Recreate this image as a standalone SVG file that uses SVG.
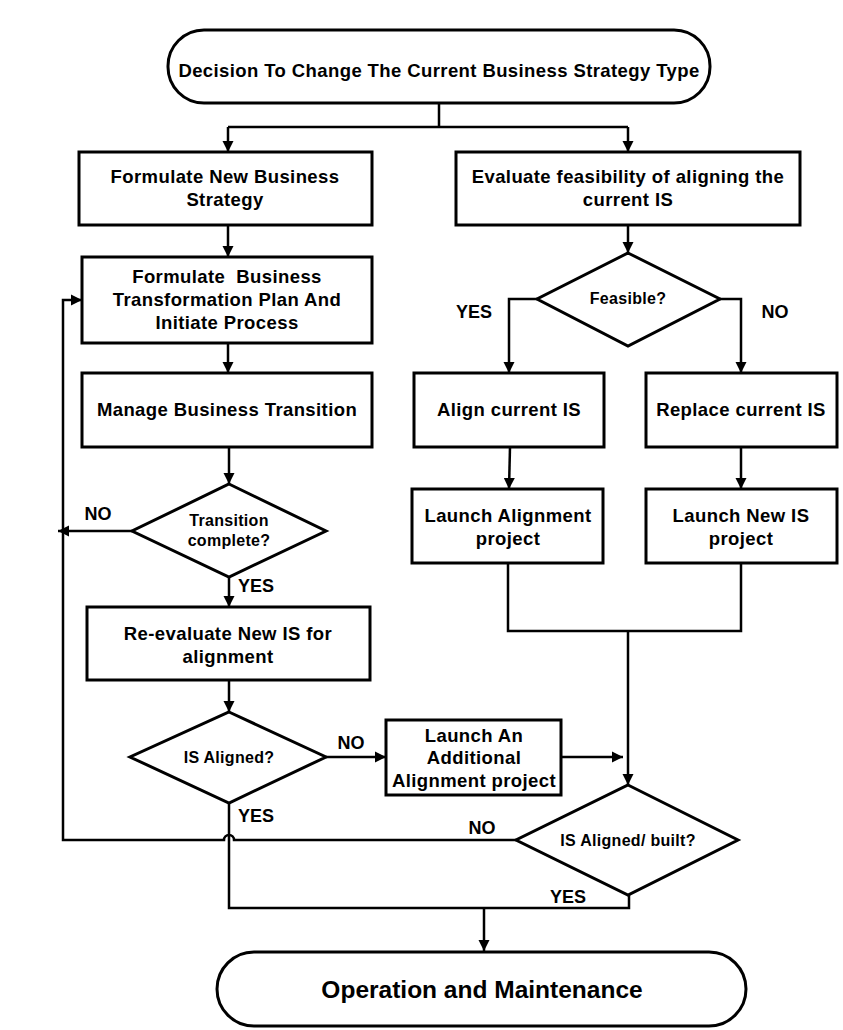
<svg xmlns="http://www.w3.org/2000/svg" width="843" height="1030" viewBox="0 0 843 1030">
<defs>
<marker id="ah" viewBox="0 0 10 10" refX="10" refY="5" markerWidth="4.5" markerHeight="4.5" orient="auto" markerUnits="strokeWidth">
<path d="M0,0 L10,5 L0,10 z" fill="#000"/>
</marker>
</defs>
<style>
.s{fill:#fff;stroke:#000;stroke-width:3}
.c{fill:none;stroke:#000;stroke-width:2.5}
.a{fill:none;stroke:#000;stroke-width:2.5;marker-end:url(#ah)}
text{font-family:"Liberation Sans",Arial,sans-serif;font-weight:bold;fill:#000;text-anchor:middle}
.t{font-size:18.5px;letter-spacing:0.4px}
.d{font-size:16px;letter-spacing:0.3px}
.l{font-size:18px}
</style>
<g id="connectors">
<path class="c" d="M439,103 V127 M228,127 H628"/>
<path class="a" d="M228,127 V152"/>
<path class="a" d="M628,127 V152"/>
<path class="a" d="M228,225 V257"/>
<path class="a" d="M228,343 V373"/>
<path class="a" d="M229,447 V484"/>
<path class="a" d="M132,531 H58"/>
<path class="a" d="M229,577 V607"/>
<path class="a" d="M229,680 V712"/>
<path class="a" d="M326,757 H386"/>
<path class="a" d="M561,757 H623"/>
<path class="a" d="M628,225 V253"/>
<path class="a" d="M537,299 H509 V373"/>
<path class="a" d="M720,299 H741 V373"/>
<path class="a" d="M510,447 L509,489"/>
<path class="a" d="M741,447 V489"/>
<path class="c" d="M508,563 V631 H741 V563"/>
<path class="a" d="M628,631 V785"/>
<path class="a" d="M516,840 H234 A5,5 0 0 0 224,840 H63 V300 H82"/>
<path class="c" d="M229,803 V908 H629 V895"/>
<path class="a" d="M484,908 V951"/>
</g>
<g id="n_start"><rect class="s" x="168" y="30" width="542" height="73" rx="36"/><text class="t" x="439" y="77">Decision To Change The Current Business Strategy Type</text></g>
<g id="n_formulate"><rect class="s" x="79" y="152" width="293" height="73"/><text class="t" x="225" y="183">Formulate New Business</text><text class="t" x="225" y="206">Strategy</text></g>
<g id="n_evaluate"><rect class="s" x="456" y="152" width="344" height="73"/><text class="t" x="628" y="183">Evaluate feasibility of aligning the</text><text class="t" x="628" y="206">current IS</text></g>
<g id="n_plan"><rect class="s" x="82" y="257" width="290" height="86"/><text class="t" x="227" y="283" xml:space="preserve">Formulate  Business</text><text class="t" x="227" y="306">Transformation Plan And</text><text class="t" x="227" y="329">Initiate Process</text></g>
<g id="n_manage"><rect class="s" x="82" y="373" width="290" height="74"/><text class="t" x="227" y="416">Manage Business Transition</text></g>
<g id="n_transition"><polygon class="s" points="229,484 326,531 229,577 132,531"/><text class="d" x="229" y="526">Transition</text><text class="d" x="229" y="546">complete?</text></g>
<g id="n_reeval"><rect class="s" x="87" y="607" width="283" height="73"/><text class="t" x="228" y="640">Re-evaluate New IS for</text><text class="t" x="228" y="663">alignment</text></g>
<g id="n_isaligned"><polygon class="s" points="229,712 326,757 229,803 130,757"/><text class="d" x="229" y="763">IS Aligned?</text></g>
<g id="n_additional"><rect class="s" x="386" y="720" width="175" height="75"/><text class="t" x="474" y="742">Launch An</text><text class="t" x="474" y="764">Additional</text><text class="t" x="474" y="787">Alignment project</text></g>
<g id="n_feasible"><polygon class="s" points="628,253 720,299 628,346 537,299"/><text class="d" x="628" y="304">Feasible?</text></g>
<g id="n_align"><rect class="s" x="414" y="373" width="190" height="74"/><text class="t" x="509" y="416">Align current IS</text></g>
<g id="n_replace"><rect class="s" x="646" y="373" width="191" height="74"/><text class="t" x="741" y="416">Replace current IS</text></g>
<g id="n_launchalign"><rect class="s" x="412" y="489" width="191" height="74"/><text class="t" x="508" y="522">Launch Alignment</text><text class="t" x="508" y="545">project</text></g>
<g id="n_launchnew"><rect class="s" x="646" y="489" width="191" height="74"/><text class="t" x="741" y="522">Launch New IS</text><text class="t" x="741" y="545">project</text></g>
<g id="n_built"><polygon class="s" points="628,785 738,840 628,895 516,840"/><text class="d" x="628" y="846">IS Aligned/ built?</text></g>
<g id="n_end"><rect class="s" x="217" y="952" width="529" height="74" rx="37"/><text x="482" y="998" style="font-size:24.5px">Operation and Maintenance</text></g>
<g id="labels">
<text class="l" x="474" y="318">YES</text>
<text class="l" x="775" y="318">NO</text>
<text class="l" x="98" y="520">NO</text>
<text class="l" x="256" y="592">YES</text>
<text class="l" x="351" y="749">NO</text>
<text class="l" x="256" y="822">YES</text>
<text class="l" x="482" y="834">NO</text>
<text class="l" x="568" y="903">YES</text>
</g>
</svg>
